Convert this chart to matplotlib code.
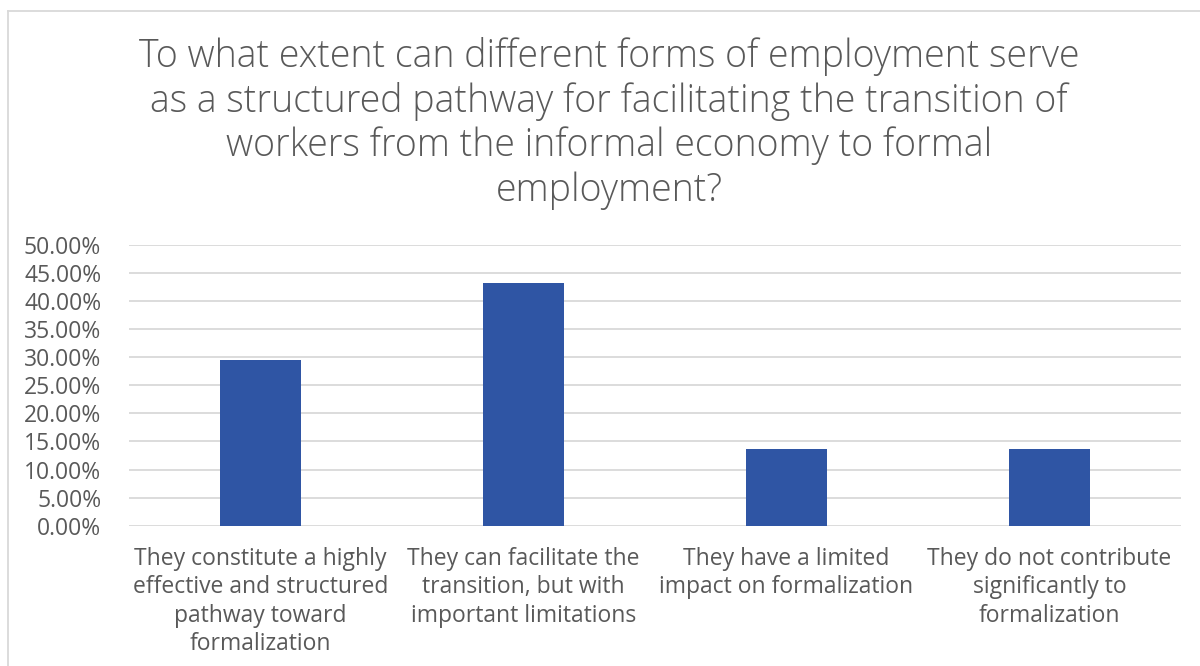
import matplotlib.pyplot as plt
from matplotlib.lines import Line2D
from matplotlib.ticker import FuncFormatter

categories = [
    "They constitute a highly\neffective and structured\npathway toward\nformalization",
    "They can facilitate the\ntransition, but with\nimportant limitations",
    "They have a limited\nimpact on formalization",
    "They do not contribute\nsignificantly to\nformalization",
]
shares = [0.2955, 0.4318, 0.1364, 0.1364]

title = ("To what extent can different forms of employment serve\n"
         "as a structured pathway for facilitating the transition of\n"
         "workers from the informal economy to formal\n"
         "employment?")

plt.rcParams['font.family'] = ['Open Sans', 'DejaVu Sans']
text_color = "#595959"
grid_color = "#D9D9D9"

fig = plt.figure(figsize=(12, 6.66), dpi=100)
ax = fig.add_axes([0.1075, 0.2107, 0.8767, 0.4214])

x = range(len(categories))
ax.bar(x, shares, width=0.31, color="#2F55A4", zorder=3)

ax.set_ylim(0, 0.5)
ax.set_xlim(-0.5, len(categories) - 0.5)
ax.set_yticks([i * 0.05 for i in range(11)])
ax.yaxis.set_major_formatter(FuncFormatter(lambda v, _: f"{v * 100:.2f}%"))
ax.grid(axis="y", color=grid_color, linewidth=1.3, zorder=0)
ax.set_xticks(list(x))
ax.set_xticklabels(categories, fontsize=16.5, color=text_color, linespacing=1.25)
ax.tick_params(axis="y", labelsize=16.5, labelcolor=text_color, length=0, pad=20)
ax.tick_params(axis="x", length=0, pad=15)
for s in ax.spines.values():
    s.set_visible(False)

fig.text(0.5075, 0.945, title, ha="center", va="top", fontsize=27,
         color=text_color, fontweight="light", linespacing=1.2)

# chart area outline
fig.add_artist(Line2D([8 / 1200, 8 / 1200], [0, 1 - 11 / 666], transform=fig.transFigure,
                      color=grid_color, linewidth=1.3))
fig.add_artist(Line2D([8 / 1200, 1], [1 - 11 / 666, 1 - 11 / 666], transform=fig.transFigure,
                      color=grid_color, linewidth=1.3))

fig.savefig("out.png", dpi=100)
